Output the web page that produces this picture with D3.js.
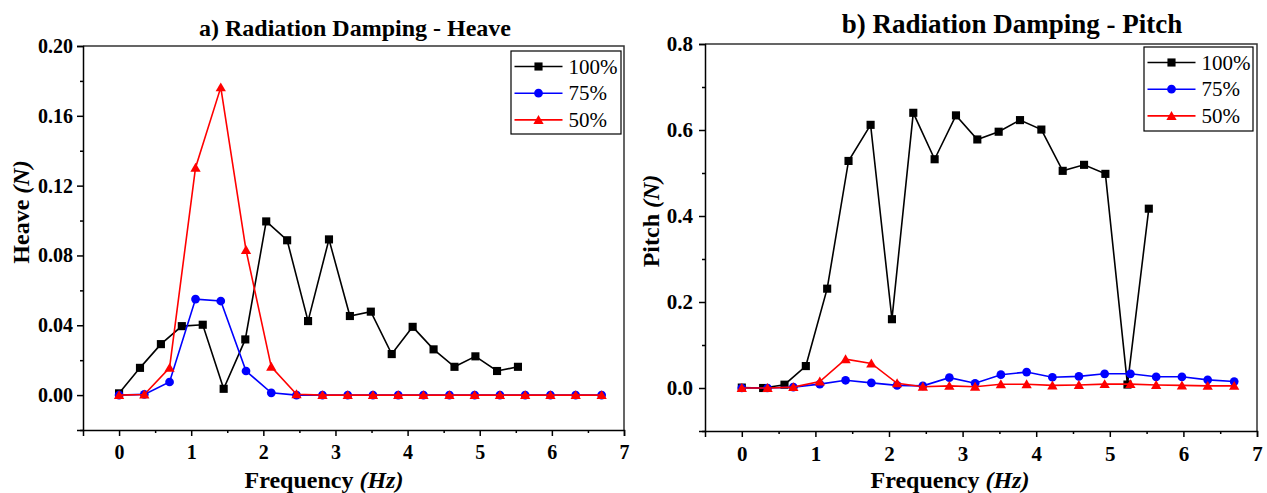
<!DOCTYPE html>
<html>
<head>
<meta charset="utf-8">
<script src="https://cdn.jsdelivr.net/npm/d3@7/dist/d3.min.js"></script>
<style>
  html, body { margin: 0; padding: 0; background: #fff; }
  svg { display: block; }
  text { font-family: "Liberation Serif", "Times New Roman", serif; fill: #000; }
</style>
</head>
<body>
<svg id="chart" width="1267" height="493"></svg>
<script>
// Frequency grids (Hz): the 100% run and the 75% / 50% runs use different steps
const freq100 = [0, 0.29, 0.58, 0.87, 1.16, 1.45, 1.75, 2.04, 2.33, 2.62, 2.91, 3.20, 3.49, 3.78, 4.07, 4.36, 4.65, 4.94, 5.24, 5.53];
const freqLow = [0, 0.35, 0.70, 1.06, 1.41, 1.76, 2.11, 2.46, 2.82, 3.17, 3.52, 3.87, 4.22, 4.58, 4.93, 5.28, 5.63, 5.98, 6.33, 6.69];

// Radiation damping - heave
const heave100 = [0.001, 0.0156, 0.0292, 0.0395, 0.0403, 0.0036, 0.0319, 0.0995, 0.0887, 0.0424, 0.0892, 0.0453, 0.0478, 0.0235, 0.0391, 0.0262, 0.0162, 0.0222, 0.0138, 0.0162];
const heave75  = [0, 0.0004, 0.0075, 0.0550, 0.0539, 0.0138, 0.0013, 0, 0, 0, 0, 0, 0, 0, 0, 0, 0, 0, 0, 0];
const heave50  = [0, 0.0003, 0.0156, 0.1303, 0.1763, 0.0831, 0.0162, 0.0005, 0, 0, 0, 0, 0, 0, 0, 0, 0, 0, 0, 0];

// Radiation damping - pitch
const pitch100 = [0.001, 0.0, 0.0077, 0.051, 0.231, 0.528, 0.612, 0.160, 0.640, 0.532, 0.634, 0.578, 0.596, 0.623, 0.601, 0.505, 0.519, 0.498, 0.008, 0.417];
const pitch75  = [0, 0, 0.002, 0.009, 0.018, 0.012, 0.006, 0.005, 0.024, 0.011, 0.031, 0.037, 0.025, 0.027, 0.033, 0.033, 0.026, 0.026, 0.019, 0.015];
const pitch50  = [0, 0, 0.002, 0.015, 0.067, 0.057, 0.011, 0.003, 0.005, 0.003, 0.0086, 0.0086, 0.006, 0.007, 0.009, 0.009, 0.007, 0.006, 0.005, 0.005];

// Tick values and labels
const xTicks = [0, 1, 2, 3, 4, 5, 6, 7];
const xMinor = [0.5, 1.5, 2.5, 3.5, 4.5, 5.5, 6.5];
const heaveTicks = [0, 0.04, 0.08, 0.12, 0.16, 0.20];
const heaveMinor = [-0.02, 0.02, 0.06, 0.10, 0.14, 0.18];
const pitchTicks = [0, 0.2, 0.4, 0.6, 0.8];
const pitchMinor = [-0.1, 0.1, 0.3, 0.5, 0.7];

const seriesNames = ["100%", "75%", "50%"];
const seriesColors = ["#000000", "#0000ff", "#ff0000"];
const seriesSymbols = [d3.symbolSquare, d3.symbolCircle, d3.symbolTriangle];
const symbolSizes = [66, 60, 46];

const svg = d3.select("#chart");
const serif = '"Liberation Serif", "Times New Roman", serif';

function drawPanel(cfg) {
  const g = svg.append("g");
  const x = d3.scaleLinear().domain([-0.5, 7]).range([cfg.left, cfg.right]);
  const y = d3.scaleLinear().domain(cfg.yDomain).range([cfg.bottom, cfg.top]);

  // frame (top / right)
  g.append("path")
    .attr("d", `M${cfg.left},${cfg.top}H${cfg.right}V${cfg.bottom}`)
    .attr("fill", "none").attr("stroke", "#333").attr("stroke-width", 1.5);

  // x axis
  const xAxis = g.append("g").attr("transform", `translate(0,${cfg.bottom})`)
    .call(d3.axisBottom(x).tickValues(xTicks).tickFormat(d3.format("d")).tickSize(6).tickPadding(10));
  g.append("g").attr("transform", `translate(0,${cfg.bottom})`)
    .call(d3.axisBottom(x).tickValues(xMinor).tickFormat("").tickSize(3))
    .select(".domain").remove();

  // y axis
  const yAxis = g.append("g").attr("transform", `translate(${cfg.left},0)`)
    .call(d3.axisLeft(y).tickValues(cfg.yTicks).tickFormat(d3.format(cfg.yFormat)).tickSize(6).tickPadding(cfg.yPad));
  g.append("g").attr("transform", `translate(${cfg.left},0)`)
    .call(d3.axisLeft(y).tickValues(cfg.yMinor).tickFormat("").tickSize(3))
    .select(".domain").remove();

  g.selectAll(".domain").attr("stroke", "#000").attr("stroke-width", 1.5);
  g.selectAll(".tick line").attr("stroke", "#000").attr("stroke-width", 1.5);
  g.selectAll(".tick text")
    .style("font-family", serif)
    .style("font-weight", "bold").style("font-size", cfg.tickSize + "px");
  xAxis.selectAll(".tick text").attr("y", 15);

  // series: lines then markers, 100% first so 50% sits on top
  cfg.series.forEach((s, i) => {
    const pts = s.xs.map((v, k) => [v, s.ys[k]]);
    const line = d3.line().x(d => x(d[0])).y(d => y(d[1]));
    g.append("path").datum(pts)
      .attr("d", line).attr("fill", "none")
      .attr("stroke", seriesColors[i]).attr("stroke-width", 1.6);
    const sym = d3.symbol().type(seriesSymbols[i]).size(symbolSizes[i]);
    g.append("g").selectAll("path").data(pts).join("path")
      .attr("transform", d => `translate(${x(d[0])},${y(d[1]) + (i === 2 ? 1 : 0)})`)
      .attr("d", sym).attr("fill", seriesColors[i]);
  });

  // legend
  const lg = g.append("g");
  lg.append("rect")
    .attr("x", cfg.legend.x).attr("y", cfg.legend.y)
    .attr("width", cfg.legend.w).attr("height", cfg.legend.h)
    .attr("fill", "#fff").attr("stroke", "#000").attr("stroke-width", 1.2);
  seriesNames.forEach((name, i) => {
    const ry = cfg.legend.y + 15.5 + i * 26.7;
    const lx = cfg.legend.x + 3.5;
    lg.append("line").attr("x1", lx).attr("x2", lx + 48).attr("y1", ry).attr("y2", ry)
      .attr("stroke", seriesColors[i]).attr("stroke-width", 1.6);
    lg.append("path").attr("transform", `translate(${lx + 24},${ry + (i === 2 ? 1 : 0)})`)
      .attr("d", d3.symbol().type(seriesSymbols[i]).size(symbolSizes[i])())
      .attr("fill", seriesColors[i]);
    lg.append("text").attr("x", lx + 54).attr("y", ry + 7)
      .style("font-size", "21px").text(name);
  });

  // title
  g.append("text").attr("x", cfg.titleX).attr("y", cfg.titleY)
    .attr("text-anchor", "middle")
    .style("font-weight", "bold").style("font-size", cfg.titleSize + "px")
    .text(cfg.title);

  // axis titles
  const xl = g.append("text").attr("x", cfg.xLabelX).attr("y", 488)
    .attr("text-anchor", "middle").style("font-weight", "bold").style("font-size", "24px");
  xl.append("tspan").text("Frequency ");
  xl.append("tspan").style("font-style", "italic").text("(Hz)");

  const yl = g.append("text")
    .attr("transform", `translate(${cfg.yLabelX},${cfg.yLabelY}) rotate(-90)`)
    .attr("text-anchor", "middle").style("font-weight", "bold").style("font-size", "24px");
  yl.append("tspan").text(cfg.yName + " ");
  yl.append("tspan").style("font-style", "italic").text("(N)");
}

drawPanel({
  left: 83, right: 624, top: 46, bottom: 430,
  yDomain: [-0.02, 0.20], yTicks: heaveTicks, yMinor: heaveMinor, yFormat: ".2f", yPad: 4, tickSize: 20,
  series: [
    { xs: freq100, ys: heave100 },
    { xs: freqLow, ys: heave75 },
    { xs: freqLow, ys: heave50 }
  ],
  legend: { x: 511, y: 51, w: 110, h: 83 },
  title: "a) Radiation Damping - Heave", titleX: 355, titleY: 36, titleSize: 24,
  xLabelX: 324, yName: "Heave", yLabelX: 29, yLabelY: 212
});

drawPanel({
  left: 705, right: 1257, top: 44, bottom: 431,
  yDomain: [-0.1, 0.8], yTicks: pitchTicks, yMinor: pitchMinor, yFormat: ".1f", yPad: 6, tickSize: 21,
  series: [
    { xs: freq100, ys: pitch100 },
    { xs: freqLow, ys: pitch75 },
    { xs: freqLow, ys: pitch50 }
  ],
  legend: { x: 1144, y: 47, w: 109, h: 84 },
  title: "b) Radiation Damping - Pitch", titleX: 1012, titleY: 33, titleSize: 27,
  xLabelX: 950, yName: "Pitch", yLabelX: 659, yLabelY: 221
});
</script>
</body>
</html>
